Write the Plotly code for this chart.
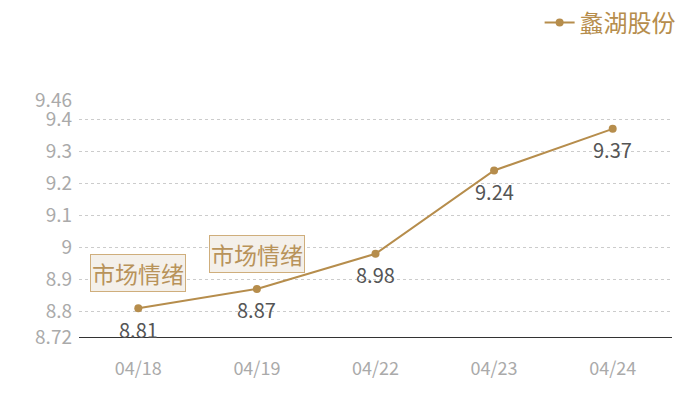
import plotly.graph_objects as go

dates = ["04/18", "04/19", "04/22", "04/23", "04/24"]
prices = [8.81, 8.87, 8.98, 9.24, 9.37]
y_ticks = [8.72, 8.8, 8.9, 9.0, 9.1, 9.2, 9.3, 9.4, 9.46]
y_tick_text = ["8.72", "8.8", "8.9", "9", "9.1", "9.2", "9.3", "9.4", "9.46"]
note_dates = ["04/18", "04/19"]
note_text = "市场情绪"

gold = "#b68d4c"
font = "Noto Sans CJK SC"

fig = go.Figure()
fig.add_trace(go.Scatter(
    x=dates,
    y=prices,
    mode="lines+markers",
    name="蠡湖股份",
    line=dict(color=gold, width=2),
    marker=dict(size=8, color=gold),
    hoverinfo="x+y",
))

# value labels sit a little further below the points than textposition allows
for d, p in zip(dates, prices):
    fig.add_annotation(
        x=d, y=p, xref="x", yref="y",
        text=f"{p:.2f}",
        showarrow=False,
        yshift=-21,
        font=dict(size=20, color="#555555", family=font),
    )

for d in note_dates:
    fig.add_annotation(
        x=d,
        y=prices[dates.index(d)],
        xref="x",
        yref="y",
        text=note_text,
        showarrow=False,
        yshift=35,
        font=dict(size=23, color="#b8935a", family=font),
        bgcolor="#f4f0ea",
        bordercolor="#cfae7c",
        borderwidth=1,
        borderpad=1,
    )

# page body adds an 8px margin, so the figure is sized to fit the rest
fig.update_layout(
    width=692,
    height=392,
    margin=dict(l=71, r=28, t=92, b=63, autoexpand=False),
    paper_bgcolor="white",
    plot_bgcolor="white",
    font=dict(family=font),
    showlegend=True,
    legend=dict(
        x=0.972, y=0.962, xref="container", yref="container",
        xanchor="right", yanchor="middle",
        font=dict(size=24, color=gold, family=font),
        bgcolor="rgba(0,0,0,0)",
        itemwidth=30,
    ),
    xaxis=dict(
        type="category",
        range=[-0.5, 4.5],
        automargin=False,
        showgrid=False,
        showline=True,
        linecolor="#333333",
        linewidth=1,
        ticks="",
        ticklabelstandoff=15,
        tickfont=dict(size=18, color="#aaaaaa"),
        zeroline=False,
    ),
    yaxis=dict(
        range=[8.72, 9.46],
        automargin=False,
        tickvals=y_ticks,
        ticktext=y_tick_text,
        showgrid=True,
        gridcolor="#cccccc",
        griddash="dot",
        gridwidth=1,
        showline=False,
        zeroline=False,
        tickfont=dict(size=19, color="#aaaaaa"),
        ticklabelstandoff=6,
    ),
)

fig.write_html("out.html")
